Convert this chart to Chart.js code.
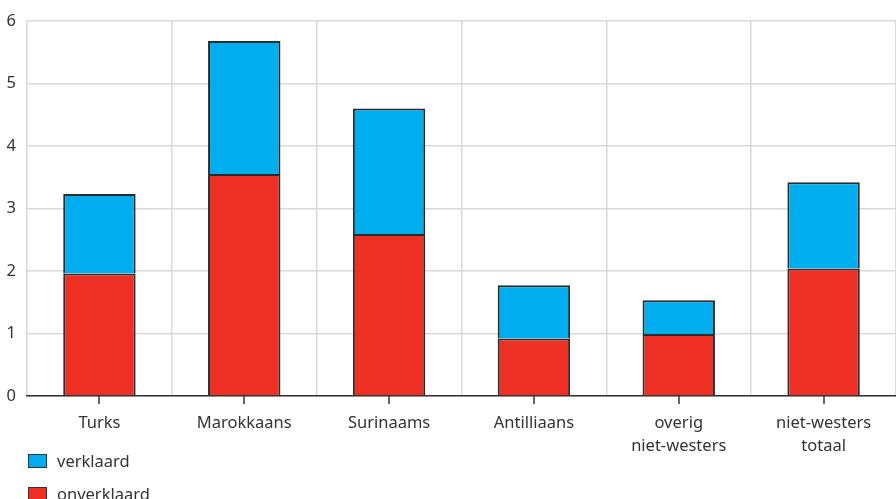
<!DOCTYPE html>
<html>
<head>
<meta charset="utf-8">
<script src="https://cdn.jsdelivr.net/npm/chart.js@4"></script>
<style>
    body { margin: 0; background: #fff; font-family: "Noto Sans", sans-serif; }
    #wrap { position: relative; width: 896px; height: 499px; overflow: hidden; }
    #legend { position: absolute; left: 28px; top: 444px; }
    .item { display: flex; align-items: center; height: 33px; font-size: 16.5px; color: #333; }
    .box { width: 17px; height: 12px; border: 1px solid #333; margin-right: 10px; }
</style>
</head>
<body>
<div id="wrap">
    <canvas id="chart" width="896" height="499"></canvas>
    <div id="legend"></div>
</div>
<script>
const categories = ['Turks', 'Marokkaans', 'Surinaams', 'Antilliaans', ['overig', 'niet-westers'], ['niet-westers', 'totaal']];
const onverklaard = [1.96, 3.55, 2.59, 0.92, 0.99, 2.04];
const verklaard = [1.27, 2.13, 2.01, 0.85, 0.54, 1.38];
const yTicks = [0, 1, 2, 3, 4, 5, 6];

// kleine streepjes onder de x-as, midden onder elke staaf
const tickMarks = {
    id: 'tickMarks',
    afterDraw(chart) {
        const x = chart.scales.x;
        const c = chart.ctx;
        c.save();
        c.strokeStyle = '#333';
        c.lineWidth = 1.5;
        categories.forEach(function (_, i) {
            const px = Math.round(x.getPixelForValue(i));
            c.beginPath();
            c.moveTo(px, x.top);
            c.lineTo(px, x.top + 8);
            c.stroke();
        });
        c.restore();
    }
};

const chart = new Chart(document.getElementById('chart'), {
    type: 'bar',
    data: {
        labels: categories,
        datasets: [{
            label: 'onverklaard',
            data: onverklaard,
            backgroundColor: '#ee2f24',
            borderColor: '#2b2b2b',
            borderWidth: 2,
            barPercentage: 0.5,
            categoryPercentage: 1
        }, {
            label: 'verklaard',
            data: verklaard,
            backgroundColor: '#00aeef',
            borderColor: '#2b2b2b',
            borderWidth: 2,
            barPercentage: 0.5,
            categoryPercentage: 1
        }]
    },
    options: {
        responsive: false,
        animation: false,
        layout: { padding: { top: 9, right: 0, bottom: 0, left: 0 } },
        plugins: {
            legend: { display: false },
            tooltip: { enabled: false }
        },
        scales: {
            x: {
                stacked: true,
                offset: true,
                grid: { offset: true, color: '#d9d9d9', lineWidth: 1.5, drawTicks: false },
                border: { color: '#333', width: 1.5 },
                ticks: { color: '#333', font: { family: 'Noto Sans', size: 16.5, lineHeight: 1.4 }, padding: 16, maxRotation: 0 },
                afterFit(scale) { scale.height = 103; }
            },
            y: {
                stacked: true,
                min: 0,
                max: 6,
                afterBuildTicks(scale) { scale.ticks = yTicks.map(v => ({ value: v })); },
                grid: { color: '#d9d9d9', lineWidth: 1.5, drawTicks: false },
                border: { display: false },
                ticks: { color: '#333', font: { family: 'Noto Sans', size: 16.5 }, padding: 11 },
                afterFit(scale) { scale.width = 27; }
            }
        }
    },
    plugins: [tickMarks]
});

// legenda als kolom, verklaard bovenaan
const legend = document.getElementById('legend');
chart.data.datasets.slice().reverse().forEach(function (ds) {
    const item = document.createElement('div');
    item.className = 'item';
    const box = document.createElement('span');
    box.className = 'box';
    box.style.background = ds.backgroundColor;
    item.appendChild(box);
    item.appendChild(document.createTextNode(ds.label));
    legend.appendChild(item);
});
</script>
</body>
</html>
